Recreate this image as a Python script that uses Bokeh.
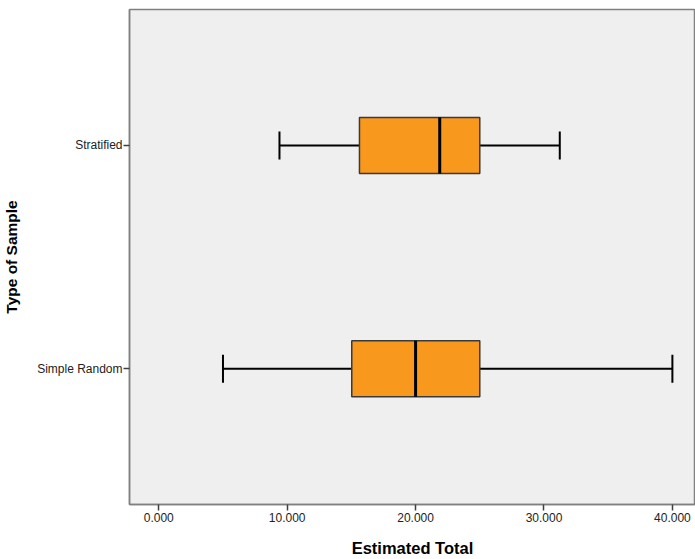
from bokeh.plotting import figure
from bokeh.models import Range1d, FixedTicker, ColumnDataSource
from bokeh.embed import file_html
from bokeh.resources import INLINE

categories = ["Simple Random", "Stratified"]
whisker_low = [5.0, 9.4]
q1 = [15.03, 15.63]
median = [20.0, 21.88]
q3 = [25.0, 25.0]
whisker_high = [40.0, 31.23]
x_ticks = [0, 10, 20, 30, 40]
x_tick_labels = ["0.000", "10.000", "20.000", "30.000", "40.000"]

ypos = [i + 1 for i in range(len(categories))]
box_h = 0.25
cap_h = 0.125

src = ColumnDataSource(dict(
    y=ypos, lo=whisker_low, q1=q1, med=median, q3=q3, hi=whisker_high,
    cap_b=[y - cap_h / 2 for y in ypos], cap_t=[y + cap_h / 2 for y in ypos],
    box_b=[y - box_h / 2 for y in ypos], box_t=[y + box_h / 2 for y in ypos],
))

p = figure(width=695, height=559, output_backend="svg", toolbar_location=None,
           x_range=Range1d(-2.28, 41.8), y_range=Range1d(0.392, 2.609),
           min_border_left=129, min_border_right=0, min_border_top=9, min_border_bottom=55)

p.background_fill_color = "#EFEFEF"
p.border_fill_color = "white"
p.outline_line_color = "#808080"
p.outline_line_width = 1.5
p.xgrid.visible = False
p.ygrid.visible = False

# whiskers
p.segment(x0="lo", y0="y", x1="q1", y1="y", source=src, line_color="black", line_width=2)
p.segment(x0="q3", y0="y", x1="hi", y1="y", source=src, line_color="black", line_width=2)
p.segment(x0="lo", y0="cap_b", x1="lo", y1="cap_t", source=src, line_color="black", line_width=2)
p.segment(x0="hi", y0="cap_b", x1="hi", y1="cap_t", source=src, line_color="black", line_width=2)
# boxes
p.quad(left="q1", right="q3", bottom="box_b", top="box_t", source=src,
       fill_color="#F8991D", line_color="#3a3a3a", line_width=1.5)
# medians
p.segment(x0="med", y0="box_b", x1="med", y1="box_t", source=src, line_color="black", line_width=3)

font = "Liberation Sans"
p.xaxis.ticker = FixedTicker(ticks=x_ticks)
p.xaxis.major_label_overrides = {t: l for t, l in zip(x_ticks, x_tick_labels)}
p.yaxis.ticker = FixedTicker(ticks=ypos)
p.yaxis.major_label_overrides = {y: c for y, c in zip(ypos, categories)}

for ax in (p.xaxis, p.yaxis):
    ax.axis_line_color = "#808080"
    ax.axis_line_width = 1.5
    ax.major_tick_line_color = "#404040"
    ax.major_tick_line_width = 1.5
    ax.major_tick_out = 6
    ax.major_tick_in = 0
    ax.minor_tick_line_color = None
    ax.major_label_text_font = font
    ax.major_label_text_font_size = "12px"
    ax.major_label_text_color = "#222222"
    ax.axis_label_text_font = font
    ax.axis_label_text_font_style = "bold"
    ax.axis_label_text_color = "black"

p.xaxis.axis_label_text_font_size = "16.5px"
p.yaxis.axis_label_text_font_size = "15.5px"
p.xaxis.major_label_standoff = 2
p.yaxis.major_label_standoff = 1
p.xaxis.axis_label = "Estimated Total"
p.yaxis.axis_label = "Type of Sample"
p.xaxis.axis_label_standoff = 14
p.yaxis.axis_label_standoff = 14

open("out.html", "w").write(file_html(p, INLINE))
